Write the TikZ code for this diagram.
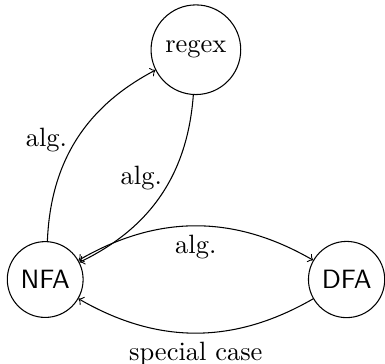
\documentclass[tikz,border=0pt]{standalone}
\begin{document}
\begin{tikzpicture}[>=to,automat/.style={draw,circle,minimum size=1cm}]
	  \useasboundingbox (-0.6,-1.11) rectangle (4.51,3.71);
	  \node[automat] (nfa) at (0,0) {\textsf{NFA}};
	  \node[automat] (dfa) at (4,0) {\textsf{DFA}};
	  \node[automat,minimum size=1.19cm] (regex) at (2,3.05) {regex};
	  \draw[->] (nfa) to[bend left=30] node[left] {alg.} (regex);
	  \draw[->] (regex) to[bend left=30] node[pos=0.4,left] {alg.} (nfa);
	  \draw[<->] (nfa) to[bend left=30] node[below] {alg.} (dfa);
	  \draw[->] (dfa) to[bend left=30] node[below] {special case} (nfa);
	\end{tikzpicture}
\end{document}
